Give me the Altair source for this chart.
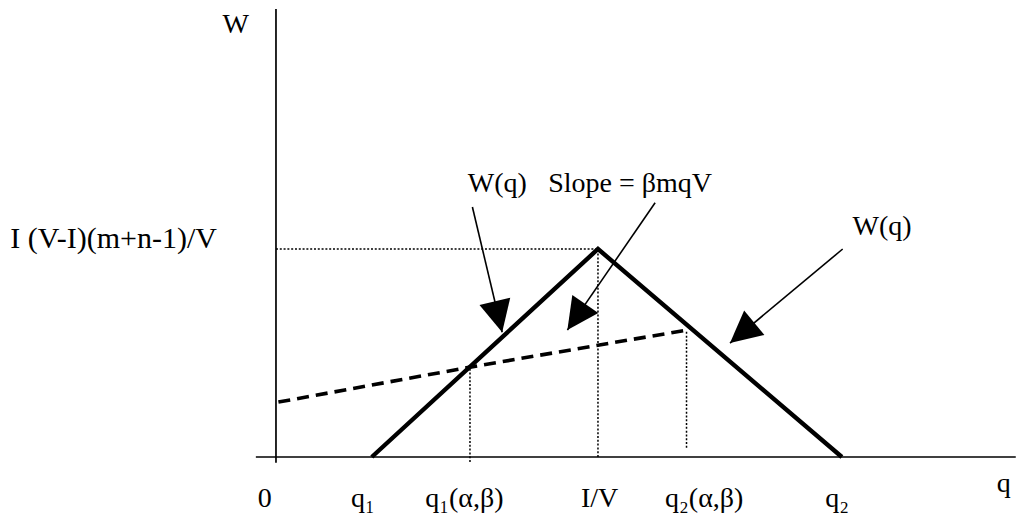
import math
import altair as alt
import pandas as pd

# ---------------- data (diagram units: q horizontal, W vertical) ----------------
tri_q = [1.19, 4.0, 7.03]
tri_w = [0.0, 5.0, 0.0]

dash_q = [0.03, 2.41, 5.1]
dash_w = [1.32, 2.16, 3.05]

guide_q = [2.41, 4.0, 5.1, 0.0]
guide_w = [-0.12, 0.0, 0.22, 5.0]
guide_q2 = [2.41, 4.0, 5.1, 4.0]
guide_w2 = [2.16, 5.0, 3.05, 5.0]

axis_q = [0.0, -0.25]
axis_w = [-0.14, 0.0]
axis_q2 = [0.0, 9.19]
axis_w2 = [10.77, 0.0]

arrow_q0 = [2.44, 4.71, 7.04]
arrow_w0 = [6.01, 6.11, 5.0]
arrow_q1 = [2.81, 3.62, 5.64]
arrow_w1 = [3.0, 3.05, 2.74]

tick_labels = ["0", "q\u2081", "q\u2081(\u03b1,\u03b2)", "I/V", "q\u2082(\u03b1,\u03b2)", "q\u2082", "q"]
tick_q = [-0.14, 1.08, 2.34, 4.02, 5.32, 6.97, 9.04]
tick_w = [-1.2, -1.2, -1.2, -1.2, -1.2, -1.2, -0.84]

note_labels = ["W", "W(q)", "Slope = \u03b2mqV", "W(q)"]
note_q = [-0.50, 2.75, 4.40, 7.53]
note_w = [10.19, 6.37, 6.37, 5.34]

level_label = ["I (V-I)(m+n-1)/V"]
level_q = [-3.30]
level_w = [5.02]

# ---------------- scales ----------------
X_DOMAIN = [-3.329, 9.193]
Y_DOMAIN = [-1.346, 10.793]
W_PX, H_PX = 1008, 505
X_PER = W_PX / (X_DOMAIN[1] - X_DOMAIN[0])
Y_PER = H_PX / (Y_DOMAIN[1] - Y_DOMAIN[0])

xs = alt.Scale(domain=X_DOMAIN, nice=False, zero=False)
ys = alt.Scale(domain=Y_DOMAIN, nice=False, zero=False)
X = lambda f: alt.X(f, type="quantitative", scale=xs, axis=None)
Y = lambda f: alt.Y(f, type="quantitative", scale=ys, axis=None)

FONT = "Liberation Serif"
FS = 28

tri_df = pd.DataFrame({"q": tri_q, "w": tri_w, "o": list(range(len(tri_q)))})
dash_df = pd.DataFrame({"q": dash_q, "w": dash_w, "o": list(range(len(dash_q)))})
guide_df = pd.DataFrame({"q": guide_q, "w": guide_w, "q2": guide_q2, "w2": guide_w2})
axis_df = pd.DataFrame({"q": axis_q, "w": axis_w, "q2": axis_q2, "w2": axis_w2})

ang = []
for a, b, c, d in zip(arrow_q0, arrow_w0, arrow_q1, arrow_w1):
    dx = (c - a) * X_PER
    dy = -(d - b) * Y_PER
    ang.append(math.degrees(math.atan2(dx, -dy)) % 360)
arrow_df = pd.DataFrame({"q": arrow_q0, "w": arrow_w0, "q2": arrow_q1, "w2": arrow_w1, "ang": ang})

tick_df = pd.DataFrame({"t": tick_labels, "q": tick_q, "w": tick_w})
note_df = pd.DataFrame({"t": note_labels, "q": note_q, "w": note_w})
level_df = pd.DataFrame({"t": level_label, "q": level_q, "w": level_w})

axes = alt.Chart(axis_df).mark_rule(color="black", strokeWidth=1.7).encode(
    x=X("q"), y=Y("w"), x2="q2", y2="w2")

guides = alt.Chart(guide_df).mark_rule(color="black", strokeWidth=1.5, strokeDash=[2, 1.8]).encode(
    x=X("q"), y=Y("w"), x2="q2", y2="w2")

tri = alt.Chart(tri_df).mark_line(color="black", strokeWidth=4.4, strokeJoin="miter").encode(
    x=X("q"), y=Y("w"), order="o:O")

dash = alt.Chart(dash_df).mark_line(color="black", strokeWidth=3.6, strokeDash=[12, 7]).encode(
    x=X("q"), y=Y("w"), order="o:O")

shafts = alt.Chart(arrow_df).mark_rule(color="black", strokeWidth=1.6).encode(
    x=X("q"), y=Y("w"), x2="q2", y2="w2")

heads = alt.Chart(arrow_df).mark_point(
    shape="M0,0L-0.5,1L0.5,1Z", filled=True, color="black", opacity=1, size=4000, strokeWidth=0
).encode(x=X("q2"), y=Y("w2"), angle=alt.Angle("ang:Q", scale=None))

ticks = alt.Chart(tick_df).mark_text(
    font=FONT, fontSize=FS, color="black", align="center", baseline="alphabetic"
).encode(x=X("q"), y=Y("w"), text="t:N")

notes = alt.Chart(note_df).mark_text(
    font=FONT, fontSize=FS, color="black", align="center", baseline="alphabetic"
).encode(x=X("q"), y=Y("w"), text="t:N")

level = alt.Chart(level_df).mark_text(
    font=FONT, fontSize=30, color="black", align="left", baseline="alphabetic"
).encode(x=X("q"), y=Y("w"), text="t:N")

chart = alt.layer(axes, guides, dash, tri, shafts, heads, ticks, notes, level).properties(
    width=W_PX, height=H_PX, autosize=alt.AutoSizeParams(type="none"), padding=0,
    background="white"
).configure_view(stroke=None)

chart.save("out.html", embed_options={"renderer": "svg", "actions": False})
